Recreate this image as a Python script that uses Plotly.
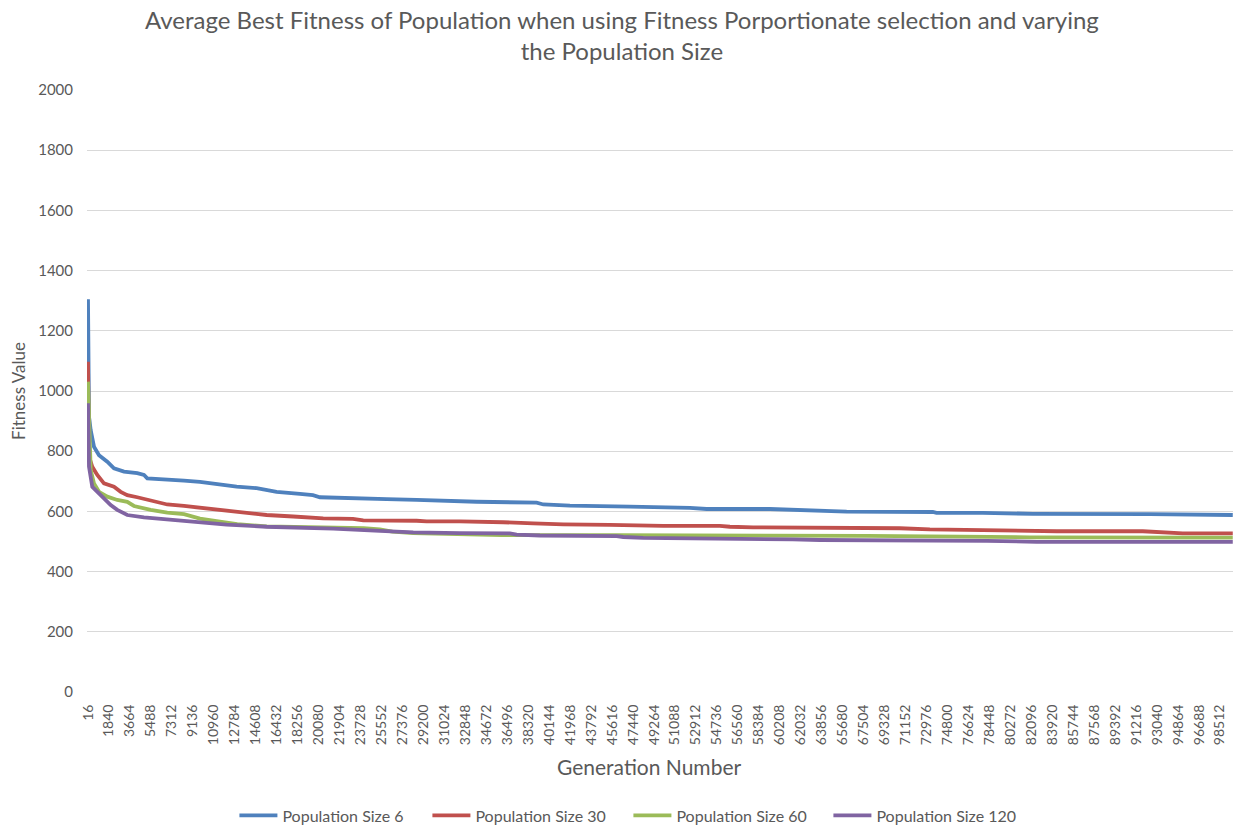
import plotly.graph_objects as go

# Generation numbers and average best fitness for each population size
gen_6 = [16, 103, 251, 538, 973, 1695, 2278, 3148, 4305, 4888, 5175, 6915, 8368, 9760,
         11500, 12953, 14692, 16432, 18460, 19591, 20200, 24263, 26003, 28613, 31803,
         33833, 39056, 39637, 41950, 46890, 47170, 52390, 53845, 59350, 61960, 66030,
         73530, 73850, 77880, 82230, 92410, 97020, 99630]
fit_6 = [1305, 915, 870, 815, 787, 765, 743, 732, 727, 721, 710, 707, 702, 698,
         688, 682, 677, 665, 658, 654, 647, 645, 641, 638, 634,
         632, 629, 623, 619, 619, 616, 612, 608, 608, 604, 599,
         598, 595, 595, 592, 591, 588, 588]

gen_30 = [16, 103, 390, 825, 1408, 2278, 2861, 3435, 4305, 5471, 6915, 8368, 9760, 10891,
          12083, 13527, 15562, 17877, 20487, 23071, 23967, 28613, 29483, 32380, 34703,
          36152, 38760, 41080, 41377, 45430, 50070, 55000, 55870, 57900, 66030, 70660,
          73270, 77620, 82230, 84320, 91800, 93020, 95280, 99630]
fit_30 = [1097, 782, 748, 721, 693, 682, 665, 654, 647, 636, 623, 618, 612, 608,
          601, 594, 588, 583, 577, 575, 570, 569, 567, 567, 566,
          564, 560, 560, 557, 555, 552, 552, 549, 547, 547, 544,
          540, 538, 536, 534, 534, 531, 527, 527]

gen_60 = [16, 251, 538, 973, 1695, 2565, 3435, 4018, 5471, 6915, 8368, 9760, 11500,
          13000, 15562, 21357, 24000, 25420, 26500, 28317, 32380, 36000, 46000, 56000,
          59600, 67790, 75880, 81970, 99630]
fit_60 = [1031, 738, 693, 665, 649, 638, 632, 618, 605, 596, 591, 576, 566,
          558, 550, 546, 544, 540, 533, 528, 523, 521, 521, 521,
          520, 519, 516, 514, 513]

gen_120 = [16, 103, 390, 825, 1408, 1991, 2565, 3435, 4888, 6915, 8368, 9760, 12083,
           15562, 21357, 25420, 28317, 32380, 36730, 37316, 39340, 46015, 46595, 48330,
           54130, 57000, 57900, 61340, 63700, 74750, 78230, 82580, 99630]
fit_120 = [959, 749, 682, 665, 643, 621, 605, 588, 580, 574, 569, 564, 556,
           549, 543, 535, 530, 528, 527, 523, 520, 518, 515, 512,
           511, 510, 508, 507, 505, 504, 502, 499, 499]

series_names = ["Population Size 6", "Population Size 30",
                "Population Size 60", "Population Size 120"]
series_colors = ["#4F81BD", "#C0504D", "#9BBB59", "#8064A2"]
legend_widths = [140, 148, 147, 140]

# Category labels shown along the generation axis
tick_gens = list(range(16, 99630, 1824))
tick_text = [str(g) for g in tick_gens]

TEXT = "#595959"
FONT = "Lato, Roboto, sans-serif"

fig = go.Figure()
for xs, ys, name, color, lw in zip([gen_6, gen_30, gen_60, gen_120],
                                   [fit_6, fit_30, fit_60, fit_120],
                                   series_names, series_colors, legend_widths):
    fig.add_trace(go.Scatter(x=xs, y=ys, mode="lines", name=name,
                             legendwidth=lw,
                             line=dict(color=color, width=3.8)))

fig.update_layout(
    width=1234, height=828,
    paper_bgcolor="white", plot_bgcolor="white",
    margin=dict(l=87, r=1, t=90, b=136, autoexpand=False),
    font=dict(family=FONT, color=TEXT),
    showlegend=True,
    legend=dict(orientation="h", x=0.472, xref="paper", xanchor="center",
                y=-0.177, yanchor="top", font=dict(size=16, color=TEXT),
                itemwidth=38, traceorder="normal"),
    hovermode=False,
    annotations=[
        # chart title (two lines)
        dict(text="Average Best Fitness of Population when using Fitness Porportionate selection and varying<br>the Population Size",
             xref="paper", yref="paper", x=0.467, y=1.145,
             xanchor="center", yanchor="top", showarrow=False,
             font=dict(size=24, color=TEXT, family=FONT)),
        # horizontal axis title
        dict(text="Generation Number", xref="paper", yref="paper",
             x=0.4904, y=-0.123, xanchor="center", yanchor="middle",
             showarrow=False, font=dict(size=21, color=TEXT, family=FONT)),
    ],
)

fig.update_xaxes(
    range=[-70, 99650], automargin=False,
    tickmode="array", tickvals=tick_gens, ticktext=tick_text,
    tickangle=-90, tickfont=dict(size=14, color=TEXT),
    ticks="outside", ticklen=6, tickcolor="rgba(0,0,0,0)",
    showgrid=False, zeroline=False, showline=False,
)

fig.update_yaxes(
    range=[0, 2000], dtick=200, automargin=False,
    tickfont=dict(size=15, color=TEXT),
    ticks="outside", ticklen=10, tickcolor="rgba(0,0,0,0)",
    showgrid=True, gridcolor="#D9D9D9", gridwidth=1.3,
    zeroline=False, showline=False,
    title=dict(text="Fitness Value", font=dict(size=17, color=TEXT), standoff=8),
)

fig.write_html("out.html")
